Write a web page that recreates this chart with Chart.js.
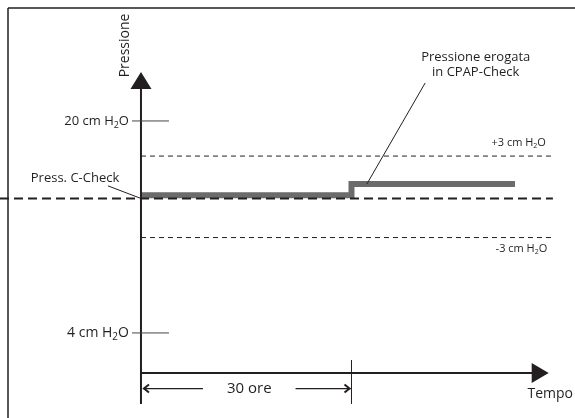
<!DOCTYPE html>
<html>
<head>
<meta charset="utf-8">
<script src="https://cdn.jsdelivr.net/npm/chart.js@4/dist/chart.umd.min.js"></script>
<style>
  html, body { margin: 0; padding: 0; background: #fff; }
  #wrap { width: 575px; height: 418px; }
</style>
</head>
<body>
<div id="wrap"><canvas id="chart"></canvas></div>
<script>
// values: hours on x, cm H2O on y
const stepHours = [0, 30, 53.3];
const stepPressure = [14.4, 15.25, 15.25];
const refPressure = 14.15;
const upperLimit = 17.35;
const lowerLimit = 11.2;
const tickValues = [20, 4];
const tickLabels = ['20 cm H|2|O', '4 cm H|2|O'];
const periodHours = 30;
const periodLabel = '30 ore';

const INK = '#231f20';
const FONT = '"Open Sans", sans-serif';

function pts(xs, ys) {
    return xs.map((x, i) => ({ x: x, y: ys[i] }));
}

// draw text like "20 cm H|2|O" with a subscript middle part
function subText(ctx, text, x, y, size, align) {
    const parts = text.split('|');
    const subSize = Math.round(size * 0.68);
    ctx.font = size + 'px ' + FONT;
    const w0 = ctx.measureText(parts[0]).width;
    const w2 = parts[2] ? ctx.measureText(parts[2]).width : 0;
    ctx.font = subSize + 'px ' + FONT;
    const w1 = parts[1] ? ctx.measureText(parts[1]).width : 0;
    const total = w0 + w1 + w2;
    let left = align === 'right' ? x - total : (align === 'center' ? x - total / 2 : x);
    ctx.textAlign = 'left';
    ctx.textBaseline = 'middle';
    ctx.font = size + 'px ' + FONT;
    ctx.fillText(parts[0], left, y);
    if (parts[1]) {
        ctx.font = subSize + 'px ' + FONT;
        ctx.fillText(parts[1], left + w0, y + size * 0.32);
        ctx.font = size + 'px ' + FONT;
        ctx.fillText(parts[2], left + w0 + w1, y);
    }
}

function line(ctx, x1, y1, x2, y2) {
    ctx.beginPath();
    ctx.moveTo(x1, y1);
    ctx.lineTo(x2, y2);
    ctx.stroke();
}

const diagramPlugin = {
    id: 'diagram',
    afterDatasetsDraw(chart) {
        const ctx = chart.ctx;
        const xs = chart.scales.x, ys = chart.scales.y;
        const X = v => xs.getPixelForValue(v);
        const Y = v => ys.getPixelForValue(v);
        ctx.save();
        ctx.strokeStyle = INK;
        ctx.fillStyle = INK;

        // frame (left + top edge)
        ctx.lineWidth = 1.5;
        line(ctx, 8, 8, 8, chart.height);
        line(ctx, 8, 8, chart.width, 8);

        // axes
        const x0 = X(0), yBase = Y(0.98);
        ctx.lineWidth = 2;
        line(ctx, x0, Y(-1.36), x0, Y(22.5));
        line(ctx, x0, yBase, X(56.4), yBase);
        // arrow heads
        ctx.beginPath();
        ctx.moveTo(x0, Y(23.7));
        ctx.lineTo(x0 - 10.5, Y(23.7) + 17);
        ctx.lineTo(x0 + 10.5, Y(23.7) + 17);
        ctx.closePath();
        ctx.fill();
        const xTip = X(58.1);
        ctx.beginPath();
        ctx.moveTo(xTip, yBase);
        ctx.lineTo(xTip - 17, yBase - 10);
        ctx.lineTo(xTip - 17, yBase + 10);
        ctx.closePath();
        ctx.fill();

        // y ticks and labels
        ctx.lineWidth = 1;
        ctx.strokeStyle = '#444';
        tickValues.forEach((v, i) => {
            line(ctx, x0 - 9, Y(v), x0 + 28, Y(v));
            subText(ctx, tickLabels[i], x0 - 12, Y(v), i === 0 ? 13 : 14, 'right');
        });

        // axis titles
        ctx.save();
        ctx.translate(X(-2.3), Y(25.7));
        ctx.rotate(-Math.PI / 2);
        ctx.font = '14px ' + FONT;
        ctx.textAlign = 'center';
        ctx.textBaseline = 'middle';
        ctx.fillText('Pressione', 0, 0);
        ctx.restore();
        ctx.font = '14px ' + FONT;
        ctx.textAlign = 'right';
        ctx.textBaseline = 'middle';
        ctx.fillText('Tempo', X(61.56), Y(-0.6));

        // period marker
        const xp = X(periodHours), yd = Y(-0.2);
        ctx.strokeStyle = INK;
        ctx.lineWidth = 1;
        line(ctx, xp, Y(1.96), xp, Y(-1.36));
        ctx.font = '15px ' + FONT;
        ctx.textAlign = 'center';
        const mid = (x0 + xp) / 2 + 3;
        const half = ctx.measureText(periodLabel).width / 2 + 24;
        ctx.fillText(periodLabel, mid, yd);
        ctx.lineWidth = 1.2;
        line(ctx, x0 + 2, yd, mid - half, yd);
        line(ctx, mid + half, yd, xp - 1, yd);
        ctx.lineWidth = 2;
        ctx.beginPath();
        ctx.moveTo(x0 + 8, yd - 4); ctx.lineTo(x0 + 3, yd); ctx.lineTo(x0 + 8, yd + 4);
        ctx.moveTo(xp - 7, yd - 4); ctx.lineTo(xp - 2, yd); ctx.lineTo(xp - 7, yd + 4);
        ctx.stroke();

        // callouts
        ctx.lineWidth = 1;
        line(ctx, X(-4.7), Y(15.1), x0, Y(refPressure));
        line(ctx, X(40.5), Y(22.87), X(32.2), Y(stepPressure[2]));
        ctx.font = '13px ' + FONT;
        ctx.textAlign = 'center';
        ctx.fillText('Press. C-Check', X(-9.4), Y(15.7));
        ctx.fillText('Pressione erogata', X(47.7), Y(24.83));
        ctx.fillText('in CPAP-Check', X(47.7), Y(23.7));
        subText(ctx, '+3 cm H|2|O', X(57.7), Y(18.34), 11, 'right');
        subText(ctx, '-3 cm H|2|O', X(57.9), Y(10.34), 11, 'right');

        ctx.restore();
    }
};

new Chart(document.getElementById('chart'), {
    type: 'line',
    data: {
        datasets: [
            {
                data: pts([-20.09, 58.7], [refPressure, refPressure]),
                borderColor: INK,
                borderWidth: 2,
                borderDash: [9, 5],
                pointRadius: 0,
                order: 0
            },
            {
                data: pts(stepHours, stepPressure),
                stepped: 'before',
                borderColor: '#6b6b6b',
                borderWidth: 6,
                borderCapStyle: 'butt',
                borderJoinStyle: 'miter',
                pointRadius: 0,
                order: 1
            },
            {
                data: pts([0, 58.7], [upperLimit, upperLimit]),
                borderColor: INK,
                borderWidth: 1,
                borderDash: [5, 4],
                pointRadius: 0,
                order: 2
            },
            {
                data: pts([0, 58.7], [lowerLimit, lowerLimit]),
                borderColor: INK,
                borderWidth: 1,
                borderDash: [5, 4],
                pointRadius: 0,
                order: 2
            }
        ]
    },
    options: {
        responsive: true,
        maintainAspectRatio: false,
        animation: false,
        layout: { padding: 0 },
        plugins: {
            legend: { display: false },
            tooltip: { enabled: false }
        },
        scales: {
            x: { type: 'linear', min: -20.09, max: 61.85, display: false },
            y: { type: 'linear', min: -2.42, max: 29.13, display: false }
        }
    },
    plugins: [diagramPlugin]
});
</script>
</body>
</html>
